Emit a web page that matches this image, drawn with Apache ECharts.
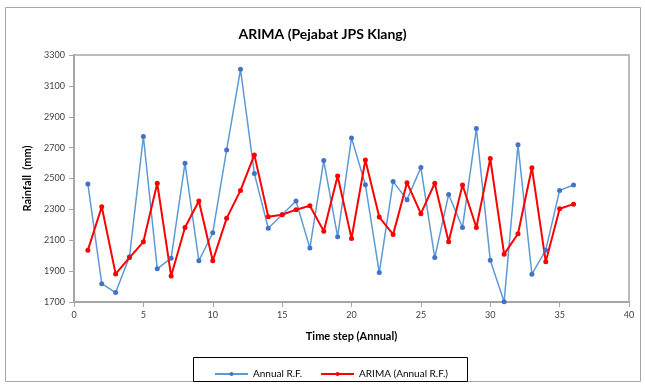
<!DOCTYPE html>
<html><head><meta charset="utf-8">
<script src="https://cdn.jsdelivr.net/npm/echarts@6/dist/echarts.min.js"></script>
<style>html,body{margin:0;padding:0;background:#fff}#c{width:645px;height:385px}</style>
</head><body><div id="c"></div>
<script>
const timeSteps = [1,2,3,4,5,6,7,8,9,10,11,12,13,14,15,16,17,18,19,20,21,22,23,24,25,26,27,28,29,30,31,32,33,34,35,36];
const annualRF = [2465,1819,1761,1993,2772,1915,1984,2599,1967,2148,2685,3207,2532,2178,2265,2354,2049,2616,2123,2763,2460,1891,2480,2363,2571,1988,2396,2183,2824,1971,1702,2718,1880,2036,2423,2458];
const arimaRF = [2036,2317,1882,1988,2090,2469,1869,2183,2354,1967,2242,2423,2653,2252,2265,2298,2324,2159,2516,2112,2620,2250,2138,2473,2272,2469,2090,2458,2183,2629,2010,2142,2570,1960,2304,2334];
const xTicks = [0,5,10,15,20,25,30,35,40];
const yTicks = [1700,1900,2100,2300,2500,2700,2900,3100,3300];
const seriesNames = ['Annual R.F.', 'ARIMA (Annual R.F.)'];

const font = 'Lato, "Liberation Sans", sans-serif';
const chart = echarts.init(document.getElementById('c'), null, {renderer: 'canvas'});
const pairs = (ys) => timeSteps.map((t, i) => [t, ys[i]]);
chart.setOption({
  animation: false,
  backgroundColor: '#fff',
  textStyle: {fontFamily: font},
  title: {
    text: 'ARIMA (Pejabat JPS Klang)',
    left: 'center', top: 22,
    textStyle: {fontFamily: font, fontSize: 14, fontWeight: 'bold', color: '#000'}
  },
  grid: {left: 74, right: 16, top: 55, bottom: 83, show: true, borderColor: '#a6a6a6', borderWidth: 1.5},
  xAxis: {
    type: 'value', min: 0, max: 40, interval: 5,
    name: 'Time step (Annual)', nameLocation: 'middle', nameGap: 29,
    nameTextStyle: {fontFamily: font, fontSize: 11, fontWeight: 'bold', color: '#000'},
    axisLine: {show: true, lineStyle: {color: '#a6a6a6', width: 2}},
    axisTick: {show: true, length: 5, lineStyle: {color: '#a6a6a6'}, customValues: xTicks},
    axisLabel: {fontSize: 9, color: '#404040', margin: 9, customValues: xTicks, formatter: v => String(v)},
    splitLine: {show: false}
  },
  yAxis: {
    type: 'value', min: 1700, max: 3300, interval: 200,
    name: 'Rainfall  (mm)', nameLocation: 'middle', nameGap: 38, nameRotate: 90,
    nameTextStyle: {fontFamily: font, fontSize: 11, fontWeight: 'bold', color: '#000'},
    axisLine: {show: true, lineStyle: {color: '#a6a6a6', width: 2}},
    axisTick: {show: true, length: 5, lineStyle: {color: '#a6a6a6'}, customValues: yTicks},
    axisLabel: {fontSize: 9, color: '#404040', margin: 9, customValues: yTicks, formatter: v => String(v)},
    splitLine: {show: false}
  },
  legend: {
    left: 209, top: 364, itemWidth: 33, itemHeight: 5, itemGap: 18,
    textStyle: {fontFamily: font, fontSize: 10, color: '#000'},
    data: seriesNames
  },
  graphic: [
    {type: 'rect', shape: {x: 5.5, y: 7.5, width: 635, height: 374}, style: {fill: 'none', stroke: '#a6a6a6', lineWidth: 1}, silent: true},
    {type: 'rect', shape: {x: 193.5, y: 357.5, width: 274, height: 24}, style: {fill: 'none', stroke: '#000', lineWidth: 1}, silent: true}
  ],
  series: [
    {
      name: seriesNames[0], type: 'line', data: pairs(annualRF),
      symbol: 'circle', symbolSize: 5,
      lineStyle: {color: '#5B9BD5', width: 1.5},
      itemStyle: {color: '#4472C4'}
    },
    {
      name: seriesNames[1], type: 'line', data: pairs(arimaRF),
      symbol: 'circle', symbolSize: 5,
      lineStyle: {color: '#FF0000', width: 2},
      itemStyle: {color: '#FF0000'}
    }
  ]
});
</script></body></html>
